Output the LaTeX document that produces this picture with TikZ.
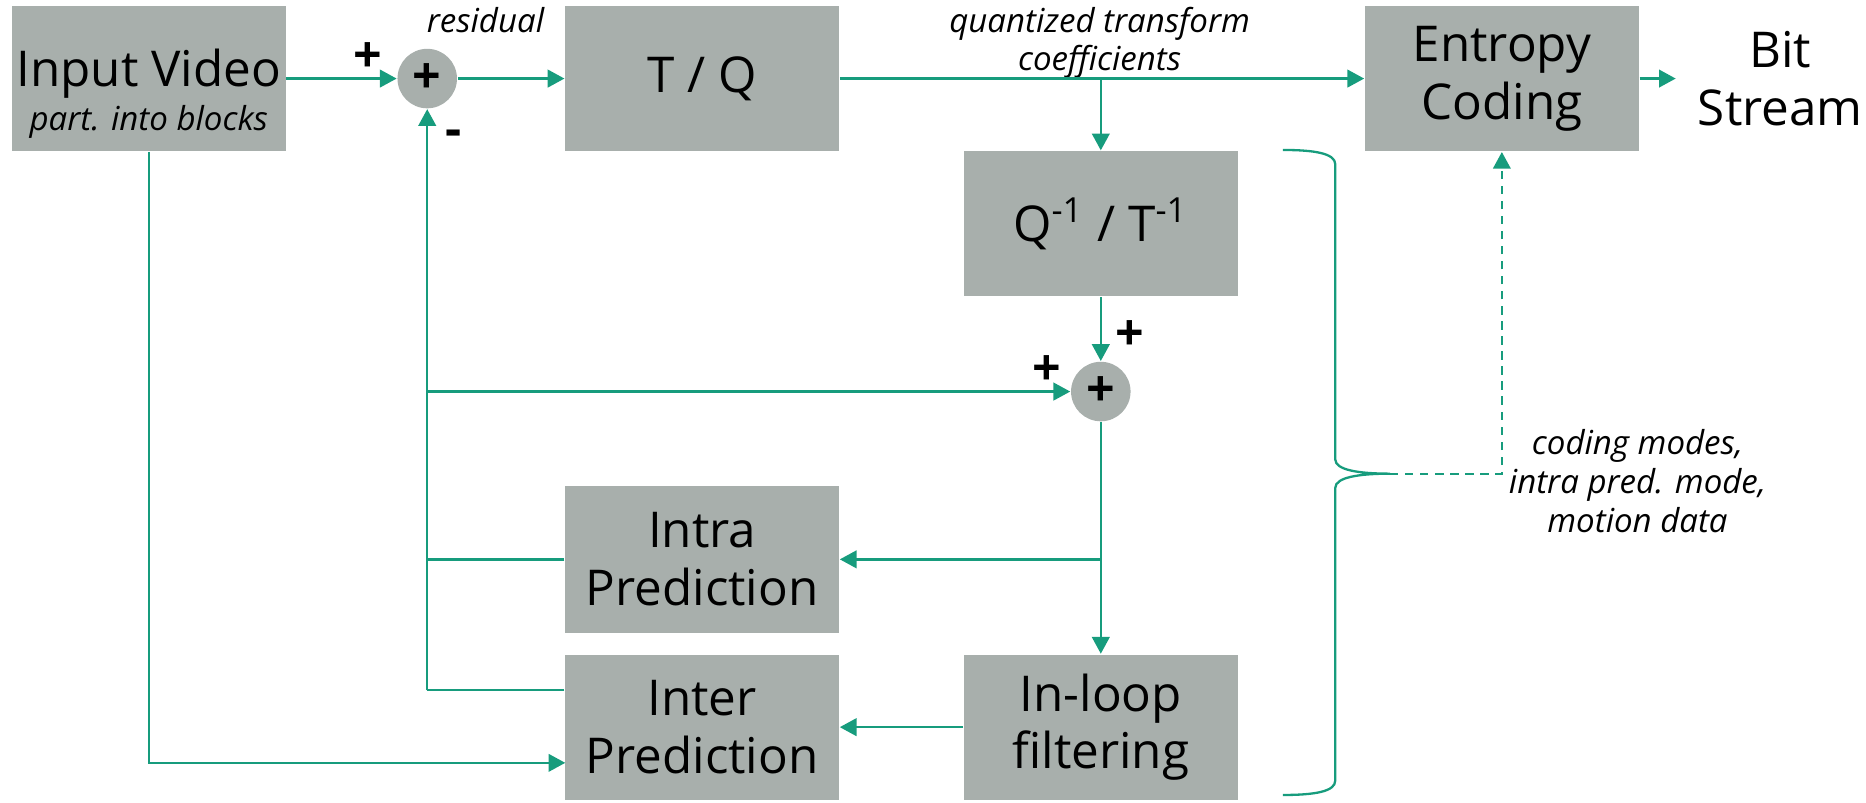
\documentclass[tikz,border=0pt]{standalone}
\usepackage{fontspec}
\setmainfont{Open Sans}
\usepackage{xcolor}
\definecolor{fhgreen}{RGB}{23, 156, 125}
\definecolor{fhgray}{RGB}{168, 175, 172}
\usetikzlibrary{arrows.meta, positioning, shapes.geometric}

\tikzset{
  block/.style={fill=fhgray, minimum width=2.3cm, minimum height=1.22cm, inner sep=0pt,
    align=center, font=\fontsize{11.8}{13.8}\selectfont},
  adder/.style={circle, fill=fhgray, minimum size=0.5cm, inner sep=0pt,
    font=\fontsize{12}{12}\selectfont\bfseries},
  flow/.style={fhgreen, line width=0.55pt, -{Triangle[length=4pt, width=4.2pt]}},
  wire/.style={fhgreen, line width=0.55pt},
  note/.style={font=\fontsize{7.9}{9.3}\selectfont\itshape, align=center, inner sep=0pt},
  sign/.style={font=\fontsize{12}{12}\selectfont\bfseries, inner sep=0pt},
}

\begin{document}
\begin{tikzpicture}
  \useasboundingbox (0,0) rectangle (15.68,-6.74);

  % Blocks
  \node[block] (inp)   at (1.25,-0.66) {};
  \node[font=\fontsize{11.8}{13.8}\selectfont] (inptext) at (1.25,-0.62) {Input Video};
  \node[note] (inpsub) at (1.25,-1.02) {part. into blocks};
  \node[block] (tq)    at (5.90,-0.66) {T / Q};
  \node[block] (ent)   at (12.62,-0.66) {Entropy\\Coding};
  \node[block] (iq)    at (9.25,-1.88) {Q\textsuperscript{-1} / T\textsuperscript{-1}};
  \node[block, minimum height=1.24cm] (intra) at (5.90,-4.70) {Intra\\Prediction};
  \node[block] (inter) at (5.90,-6.11) {Inter\\Prediction};
  \node[block] (filt)  at (9.25,-6.11) {In-loop\\filtering};
  \node[align=center, inner sep=1.8mm, font=\fontsize{11.8}{13.8}\selectfont] (bit) at (14.96,-0.66) {Bit\\Stream};

  % Adders
  \node[adder] (sum1) at (3.59,-0.66) {+};
  \node[adder] (sum2) at (9.25,-3.29) {+};

  % Signs and notes
  \node[sign] (p1) at (3.09,-0.48) {+};
  \node[sign] (m1) at (3.81,-1.16) {-};
  \node[sign] (p2) at (9.49,-2.82) {+};
  \node[sign] (p3) at (8.80,-3.11) {+};
  \node[note] (res) at (4.08,-0.17) {residual};
  \node[note] (coef) at (9.24,-0.36) {quantized transform\\coefficients};
  \node[note] (modes) at (13.76,-4.04) {coding modes,\\intra pred. mode,\\motion data};

  % Helper points
  \coordinate (split1) at (9.25,-0.66);
  \coordinate (split2) at (9.25,-4.70);
  \coordinate (fb) at (3.59,-5.80);
  \coordinate (fbtap) at (3.59,-3.29);
  \coordinate (interin) at (4.75,-6.41);
  \coordinate (tip) at (11.68,-3.98);

  % Forward path
  \draw[flow] (inp) -- (sum1);
  \draw[flow] (sum1) -- (tq);
  \draw[flow] (tq) -- (ent);
  \draw[flow] (ent) -- (bit);
  \draw[flow] (split1) -- (iq);
  \draw[flow] (iq) -- (sum2);
  \draw[flow] (sum2) -- (filt);
  \draw[flow] (split2) -- (intra);
  \draw[flow] (filt) -- (inter);

  % Prediction feedback
  \draw[wire] (intra.west) -- (intra.west -| fb);
  \draw[wire] (inter.west |- fb) -- (fb);
  \draw[flow] (fb) -- (sum1);
  \draw[flow] (fbtap) -- (sum2);
  \draw[flow] (inp.south) |- (interin);

  % Side information brace
  \draw[wire] (10.78,-1.26) .. controls (11.05,-1.26) and (11.22,-1.29) .. (11.22,-1.38)
    -- (11.22,-3.86) .. controls (11.22,-3.95) and (11.42,-3.98) .. (tip)
    .. controls (11.42,-3.98) and (11.22,-4.01) .. (11.22,-4.10)
    -- (11.22,-6.56) .. controls (11.22,-6.65) and (11.05,-6.68) .. (10.78,-6.68);
  \draw[flow, dash pattern=on 2pt off 1.6pt] (tip) -| (ent.south);
\end{tikzpicture}
\end{document}
